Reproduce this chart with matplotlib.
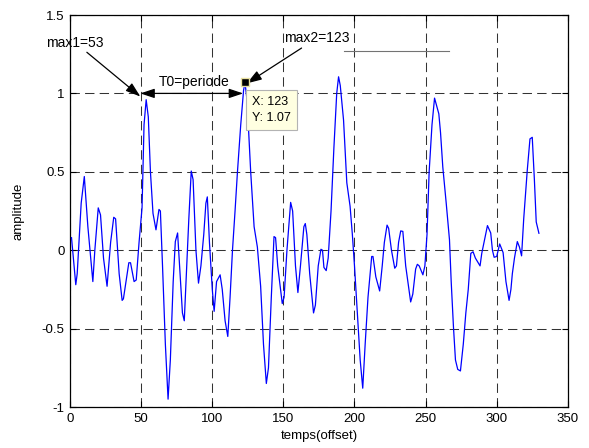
import numpy as np
import matplotlib
matplotlib.use("Agg")
import matplotlib.pyplot as plt

plt.rcParams['font.family'] = ['Liberation Sans', 'DejaVu Sans']
plt.rcParams['font.size'] = 9.5

# signal (offset, amplitude)
offset = [1, 4, 5, 7.8, 10, 12.5, 16, 17.4, 19.8, 21.4, 23.5, 26, 28.5, 30.7, 32,
          34.5, 36.6, 37.5, 41.3, 42.5, 45, 46.5, 48.5, 50.6, 52, 53.5, 55, 56.5,
          58.3, 60.4, 62.5, 63.5, 65, 67, 68.9, 70.5, 72.5, 74, 75.6, 77, 79, 80.3,
          82, 83.5, 85.2, 86.5, 88.5, 90.3, 92, 94, 95.5, 96.5, 98, 100, 101.3, 103,
          105.5, 107, 109, 110.9, 112.5, 114.2, 116, 117.7, 120, 122, 123, 124.5,
          127, 129.4, 131.7, 134, 136, 138, 139.5, 141.5, 143.4, 144.5, 146, 149.2,
          150.5, 152.5, 155.1, 156.5, 158.5, 160.2, 162, 164.4, 165.4, 166.5, 168.5,
          171.2, 172.5, 174.5, 176.4, 177.5, 178.5, 180.1, 181.5, 183.5, 185.5,
          187.5, 188.8, 190, 192.3, 194.6, 196.9, 198.5, 200, 202, 204, 205.8,
          207.5, 209.5, 212.1, 213, 215, 217.7, 219.5, 221, 222.9, 224, 226, 228.3,
          229.5, 231, 232.5, 234, 236, 239.5, 241, 243, 244.2, 245.5, 248.1, 249.5,
          251, 252.5, 254.5, 256.3, 257.5, 259.3, 260.5, 262.1, 264.5, 266.8, 268,
          269.6, 271, 272.6, 274.5, 276.5, 278.3, 280, 281.8, 283.4, 285, 288.3,
          289.5, 290.7, 293.5, 295.8, 297, 298.2, 300, 302.1, 303, 304.5, 306.5,
          308.7, 310, 311, 312.5, 314.5, 316, 317.5, 319, 321.5, 323.4, 325, 326.5,
          327.8, 329.7]
amplitude = [0.08, -0.22, -0.15, 0.3, 0.47, 0.15, -0.2, 0.0, 0.27, 0.225, -0.05, -0.23,
             0.05, 0.21, 0.2, -0.15, -0.32, -0.31, -0.08, -0.08, -0.2, -0.19, 0.05,
             0.27, 0.8, 0.96, 0.85, 0.5, 0.235, 0.13, 0.26, 0.25, -0.1, -0.6, -0.95,
             -0.7, -0.2, 0.055, 0.11, -0.1, -0.4, -0.45, -0.1, 0.2, 0.505, 0.45, 0.0,
             -0.21, -0.1, 0.1, 0.3, 0.34, 0.05, -0.25, -0.39, -0.2, -0.157, -0.25,
             -0.45, -0.55, -0.3, 0.0, 0.25, 0.5, 0.8, 1.02, 1.07, 0.95, 0.5, 0.15,
             0.02, -0.23, -0.6, -0.85, -0.75, -0.3, 0.087, 0.08, -0.1, -0.34, -0.3,
             0.0, 0.305, 0.25, -0.1, -0.27, -0.1, 0.15, 0.17, 0.1, -0.15, -0.4,
             -0.35, -0.1, 0.006, 0.0, -0.11, -0.13, -0.05, 0.25, 0.65, 1.0, 1.106,
             1.05, 0.83, 0.43, 0.28, 0.1, -0.1, -0.4, -0.7, -0.88, -0.6, -0.3, -0.04,
             -0.04, -0.17, -0.26, -0.1, 0.05, 0.16, 0.14, 0.0, -0.115, -0.1, 0.05,
             0.123, 0.12, -0.1, -0.33, -0.28, -0.12, -0.09, -0.1, -0.157, -0.1, 0.1,
             0.5, 0.8, 0.97, 0.93, 0.87, 0.75, 0.53, 0.3, 0.066, -0.2, -0.49, -0.7,
             -0.76, -0.77, -0.6, -0.4, -0.25, -0.02, -0.01, -0.05, -0.1, -0.02, 0.034,
             0.157, 0.11, 0.0, -0.045, -0.04, 0.04, 0.02, -0.015, -0.2, -0.32, -0.25,
             -0.15, -0.05, 0.055, 0.02, -0.036, 0.2, 0.51, 0.71, 0.72, 0.45, 0.18,
             0.108]

xticks = [0, 50, 100, 150, 200, 250, 300, 350]
yticks = [-1, -0.5, 0, 0.5, 1, 1.5]
ytick_labels = ['-1', '-0.5', '0', '0.5', '1', '1.5']

max1 = 53
max2 = 123
tip_y = 1.07

fig = plt.figure(figsize=(5.89, 4.48), dpi=100)
ax = fig.add_axes([0.119, 0.0915, 0.845, 0.875])

ax.plot(offset, amplitude, color='#0000ff', linewidth=0.9, zorder=3)

ax.set_xlim(0, 350)
ax.set_ylim(-1, 1.5)
ax.set_xticks(xticks)
ax.set_yticks(yticks)
ax.set_yticklabels(ytick_labels)
ax.tick_params(direction='in', top=True, right=True, length=4, width=0.8, pad=4)
ax.grid(True, color='0.2', linestyle=(0, (9, 5)), linewidth=0.75)
for s in ax.spines.values():
    s.set_linewidth(0.9)

ax.set_xlabel('temps(offset)', labelpad=4)
ax.set_ylabel('amplitude', labelpad=12)

# annotations
arrow_kw = dict(arrowstyle='-|>,head_length=0.9,head_width=0.3', color='black',
                linewidth=0.9, shrinkA=0, shrinkB=0)
ax.annotate('max1=53', xy=(49.4, 0.98), xytext=(23.7, 1.28),
            textcoords='data', ha='right', va='bottom', arrowprops=arrow_kw,
            annotation_clip=False, fontsize=10)
ax.annotate('max2=123', xy=(124.3, 1.064), xytext=(150.4, 1.307),
            ha='left', va='bottom', arrowprops=arrow_kw, fontsize=10)
ax.annotate('', xy=(49.4, 1.0), xytext=(121.7, 1.0),
            arrowprops=dict(arrowstyle='<|-|>,head_length=0.9,head_width=0.3',
                            color='black', linewidth=0.9, shrinkA=0, shrinkB=0))
ax.text(87, 1.07, 'T0=periode', ha='center', va='center', fontsize=10)
ax.plot([192.5, 266.2], [1.269, 1.269], color='0.45', linewidth=0.8)

# data tip
ax.plot([max2], [tip_y], marker='s', markersize=6, markerfacecolor='black',
        markeredgecolor='#e8e0a0', markeredgewidth=1, zorder=5)
ax.text(128, 0.985, 'X: 123\nY: 1.07', ha='left', va='top', fontsize=9,
        linespacing=1.5, zorder=6,
        bbox=dict(boxstyle='square,pad=0.45', facecolor='#ffffe1',
                  edgecolor='0.7', linewidth=0.8))

fig.savefig('out.png', dpi=100)
